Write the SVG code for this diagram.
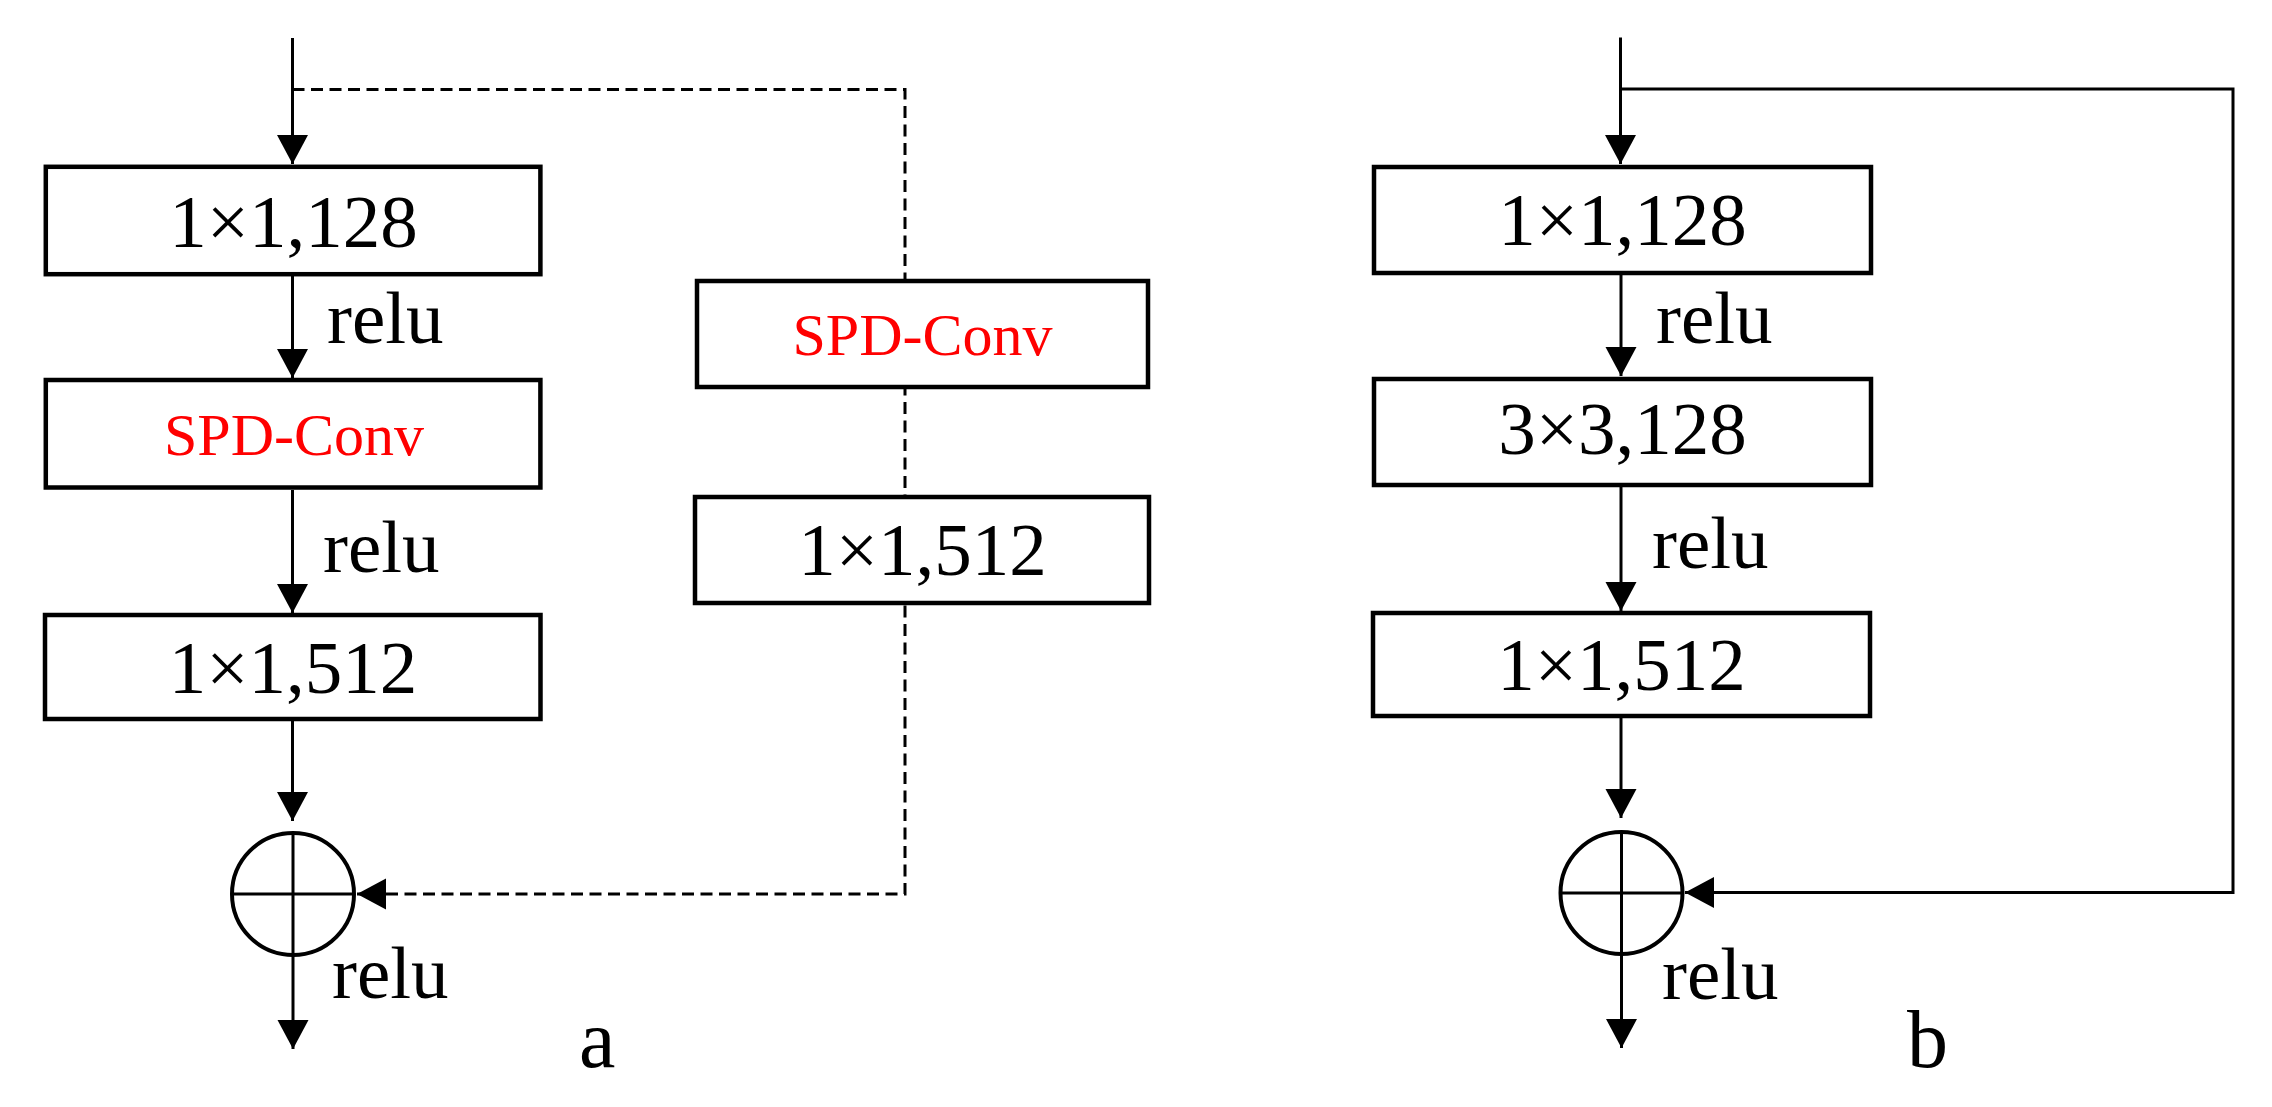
<svg xmlns="http://www.w3.org/2000/svg" width="2272" height="1107" viewBox="0 0 2272 1107">
<style>
.box{fill:#fff;stroke:#000;stroke-width:4.5}
.ln{fill:none;stroke:#000;stroke-width:3}
.dash{fill:none;stroke:#000;stroke-width:3;stroke-dasharray:12 6.5}
.t{font-family:"Liberation Serif","Times New Roman",serif;font-size:75px;fill:#000}
.red{font-family:"Liberation Serif","Times New Roman",serif;font-size:60px;fill:#ff0000}
.lab{font-family:"Liberation Serif","Times New Roman",serif;font-size:82px;fill:#000}
.sum{fill:#fff;stroke:#000;stroke-width:4}
</style>
<defs>
<marker id="ah" markerUnits="userSpaceOnUse" markerWidth="30" markerHeight="32" refX="29" refY="15.5" orient="auto" viewBox="0 0 30 31">
<path d="M0,0 L29,15.5 L0,31 z" fill="#000"/>
</marker>
</defs>
<g id="connectors">
<path class="ln" d="M292.5,38 V164" marker-end="url(#ah)"/>
<path class="dash" d="M292.5,89.5 H905 V894 H357" marker-end="url(#ah)"/>
<path class="ln" d="M292.5,276 V378" marker-end="url(#ah)"/>
<path class="ln" d="M292.5,490 V613" marker-end="url(#ah)"/>
<path class="ln" d="M292.5,720 V821" marker-end="url(#ah)"/>
<path class="ln" d="M293,955 V1049" marker-end="url(#ah)"/>
<path class="ln" d="M1620.5,37.5 V164" marker-end="url(#ah)"/>
<path class="ln" d="M1620.5,89 H2233 V892.5 H1685" marker-end="url(#ah)"/>
<path class="ln" d="M1621,274 V376" marker-end="url(#ah)"/>
<path class="ln" d="M1621,487 V611" marker-end="url(#ah)"/>
<path class="ln" d="M1621,718 V818" marker-end="url(#ah)"/>
<path class="ln" d="M1621.5,954 V1048" marker-end="url(#ah)"/>
</g>
<g id="a_box1"><rect class="box" x="45.8" y="166.8" width="494.6" height="107.4"/><text class="t" x="293.5" y="247" text-anchor="middle">1×1,128</text></g>
<g id="a_relu1"><text class="t" x="327" y="343">relu</text></g>
<g id="a_box2"><rect class="box" x="45.8" y="380" width="494.6" height="107.5"/><text class="red" x="294" y="455" text-anchor="middle">SPD-Conv</text></g>
<g id="a_relu2"><text class="t" x="323" y="572">relu</text></g>
<g id="a_box3"><rect class="box" x="45" y="615" width="495.5" height="104"/><text class="t" x="293" y="693" text-anchor="middle">1×1,512</text></g>
<g id="a_sum"><circle class="sum" cx="293" cy="894" r="61"/><path class="ln" d="M293,833 V955 M232,894 H354"/></g>
<g id="a_relu3"><text class="t" x="332" y="998">relu</text></g>
<g id="a_label"><text class="lab" x="579" y="1067">a</text></g>
<g id="a_short_spd"><rect class="box" x="697" y="281" width="451" height="106"/><text class="red" x="922.5" y="355" text-anchor="middle">SPD-Conv</text></g>
<g id="a_short_conv"><rect class="box" x="695" y="497" width="454" height="106"/><text class="t" x="922.5" y="575" text-anchor="middle">1×1,512</text></g>
<g id="b_box1"><rect class="box" x="1374" y="167" width="497" height="106"/><text class="t" x="1622.5" y="245" text-anchor="middle">1×1,128</text></g>
<g id="b_relu1"><text class="t" x="1656" y="343">relu</text></g>
<g id="b_box2"><rect class="box" x="1374" y="379" width="497" height="106"/><text class="t" x="1622.5" y="454" text-anchor="middle">3×3,128</text></g>
<g id="b_relu2"><text class="t" x="1652" y="568">relu</text></g>
<g id="b_box3"><rect class="box" x="1373" y="613" width="497" height="103"/><text class="t" x="1621.5" y="690" text-anchor="middle">1×1,512</text></g>
<g id="b_sum"><circle class="sum" cx="1621.5" cy="893" r="61"/><path class="ln" d="M1621.5,832 V954 M1560.5,893 H1682.5"/></g>
<g id="b_relu3"><text class="t" x="1662" y="999">relu</text></g>
<g id="b_label"><text class="lab" x="1907" y="1067">b</text></g>
</svg>
